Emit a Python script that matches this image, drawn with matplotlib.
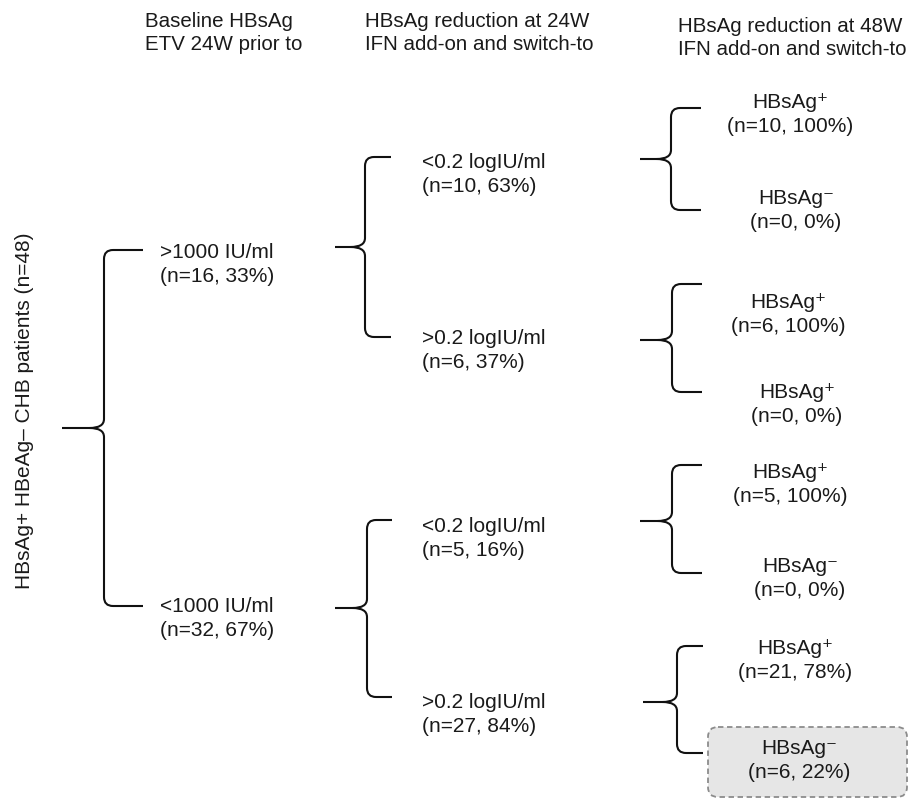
import matplotlib.pyplot as plt
from matplotlib.path import Path
from matplotlib.patches import PathPatch, FancyBboxPatch

# ---- data ----
root_label = 'HBsAg+ HBeAg\u2013 CHB patients (n=48)'

headers = [
    ['Baseline HBsAg', 'ETV 24W prior to'],
    ['HBsAg reduction at 24W', 'IFN add-on and switch-to'],
    ['HBsAg reduction at 48W', 'IFN add-on and switch-to'],
]

baseline_cat = ['>1000 IU/ml', '<1000 IU/ml']
baseline_n = [16, 32]
baseline_pct = [33, 67]

red24_cat = ['<0.2 logIU/ml', '>0.2 logIU/ml', '<0.2 logIU/ml', '>0.2 logIU/ml']
red24_n = [10, 6, 5, 27]
red24_pct = [63, 37, 16, 84]

out48_cat = ['HBsAg\u207a', 'HBsAg\u207b', 'HBsAg\u207a', 'HBsAg\u207a',
             'HBsAg\u207a', 'HBsAg\u207b', 'HBsAg\u207a', 'HBsAg\u207b']
out48_n = [10, 0, 6, 0, 5, 0, 21, 6]
out48_pct = [100, 0, 100, 0, 100, 0, 78, 22]
highlight = 7  # index of the boxed outcome

# ---- layout (pixel space, y down) ----
W, H = 912, 799
FS = 15
HFS = 14.8
LINE_GAP = 12
FONT = ['Liberation Sans', 'DejaVu Sans']

# brace: (tip_x, vert_x, end_x, top_y, mid_y, bottom_y)
braces = [
    (62, 104, 143, 250, 428, 606),
    (335, 365, 391, 157, 247, 337),
    (335, 367, 392, 520, 608, 697),
    (640, 671, 701, 108, 159, 210),
    (640, 672, 702, 284, 340, 392),
    (640, 672, 702, 465, 521, 573),
    (643, 677, 703, 646, 702, 753),
]

header_pos = [(145, 33), (365, 33), (678, 38)]
baseline_pos = [(160, 265), (160, 619)]
red24_pos = [(422, 175), (422, 351), (422, 538), (422, 715)]
out48_pos = [(790, 115), (796, 211), (788, 314), (797, 404),
             (790, 485), (800, 578), (795, 660), (799, 760)]


def draw_brace(ax, tip_x, vx, ex, ty, my, by, r=9):
    verts = [
        (ex, ty), (vx + r, ty), (vx, ty), (vx, ty + r),
        (vx, my - r), (vx, my), (vx - r * 1.6, my), (tip_x, my),
        (vx - r * 1.6, my), (vx, my), (vx, my + r),
        (vx, by - r), (vx, by), (vx + r, by), (ex, by),
    ]
    codes = [Path.MOVETO, Path.LINETO, Path.CURVE3, Path.CURVE3,
             Path.LINETO, Path.CURVE3, Path.CURVE3, Path.LINETO,
             Path.MOVETO, Path.CURVE3, Path.CURVE3,
             Path.LINETO, Path.CURVE3, Path.CURVE3, Path.LINETO]
    ax.add_patch(PathPatch(Path(verts, codes), facecolor='none',
                           edgecolor='#111111', lw=1.5, capstyle='butt',
                           joinstyle='round'))


def two_lines(ax, x, y, l1, l2, ha='left', fs=FS, gap=LINE_GAP):
    ax.text(x, y - gap, l1, ha=ha, va='center', fontsize=fs,
            family=FONT, color='#1a1a1a')
    ax.text(x, y + gap, l2, ha=ha, va='center', fontsize=fs,
            family=FONT, color='#1a1a1a')


fig = plt.figure(figsize=(W / 100, H / 100), dpi=100)
ax = fig.add_axes([0, 0, 1, 1])
ax.set_xlim(0, W)
ax.set_ylim(H, 0)
ax.axis('off')

# headers
for (x, y), (l1, l2) in zip(header_pos, headers):
    two_lines(ax, x, y, l1, l2, fs=HFS, gap=11.5)

# root label
ax.text(25, 411, root_label, rotation=90, ha='center', va='center',
        fontsize=FS, family=FONT, color='#1a1a1a')

for b in braces:
    draw_brace(ax, *b)

for (x, y), c, n, p in zip(baseline_pos, baseline_cat, baseline_n, baseline_pct):
    two_lines(ax, x, y, c, f'(n={n}, {p}%)')

for (x, y), c, n, p in zip(red24_pos, red24_cat, red24_n, red24_pct):
    two_lines(ax, x, y, c, f'(n={n}, {p}%)')

# highlighted box behind one outcome
ax.add_patch(FancyBboxPatch((708, 727), 199, 70,
                            boxstyle='round,pad=0,rounding_size=10',
                            facecolor='#e6e6e6', edgecolor='#8c8c8c',
                            lw=1.3, linestyle=(0, (3, 2)), zorder=0))

for (x, y), c, n, p in zip(out48_pos, out48_cat, out48_n, out48_pct):
    two_lines(ax, x, y, c, f'(n={n}, {p}%)', ha='center')

fig.savefig('out.png', dpi=100, facecolor='white')
